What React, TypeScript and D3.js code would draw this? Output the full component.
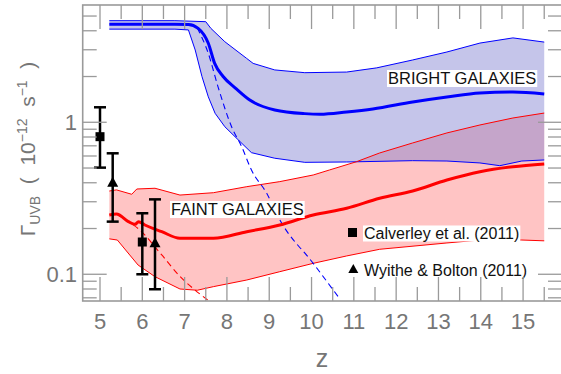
import React, { useLayoutEffect, useRef, useState } from "react";
import * as d3 from "d3";

// ---------- data ----------
const blueMidZ = [5.22, 6.77, 7.09, 7.32, 7.56, 7.71, 7.91, 8.2, 8.54, 9.13, 9.84, 10.2, 10.83, 11.45, 12.39, 13.2, 13.98, 14.76, 15.5];
const blueMidV = [4.41, 4.41, 4.4, 4.15, 3.31, 2.44, 2.0, 1.68, 1.4, 1.205, 1.14, 1.13, 1.169, 1.223, 1.36, 1.467, 1.56, 1.58, 1.535];

const blueHiZ = [5.22, 6.77, 7.5, 7.62, 7.95, 8.46, 8.62, 9.13, 9.84, 10.83, 11.54, 12.39, 13.2, 13.98, 14.76, 15.5];
const blueHiV = [4.66, 4.66, 4.59, 4.15, 3.39, 2.64, 2.44, 2.21, 2.12, 2.14, 2.28, 2.57, 2.9, 3.32, 3.59, 3.37];

const blueLoZ = [5.22, 6.77, 7.09, 7.25, 7.41, 7.56, 7.72, 7.95, 8.27, 8.58, 9.13, 9.84, 10.83, 12.39, 13.2, 13.98, 14.45, 14.97, 15.5];
const blueLoV = [4.1, 4.1, 4.05, 2.99, 2.0, 1.47, 1.146, 0.935, 0.765, 0.631, 0.58, 0.545, 0.548, 0.559, 0.556, 0.54, 0.518, 0.556, 0.565];

const blueDashZ = [7.3, 7.56, 7.79, 8.11, 8.35, 8.58, 8.94, 9.25, 10.04, 10.63];
const blueDashV = [4.17, 2.84, 1.71, 0.935, 0.69, 0.485, 0.341, 0.228, 0.118, 0.0712];

const redMidZ = [5.22, 5.39, 5.67, 5.83, 5.91, 6.06, 6.46, 6.89, 7.68, 8.47, 9.25, 10.04, 10.83, 11.61, 12.39, 13.2, 13.98, 14.76, 15.5];
const redMidV = [0.2455, 0.249, 0.222, 0.213, 0.222, 0.211, 0.1906, 0.1726, 0.1726, 0.1906, 0.211, 0.2455, 0.2717, 0.316, 0.353, 0.417, 0.473, 0.51, 0.532];

const redHiZ = [5.22, 5.39, 5.75, 5.87, 6.3, 6.89, 7.68, 8.47, 9.25, 10.04, 10.43, 11.06, 11.61, 12.39, 13.2, 13.98, 14.76, 15.5];
const redHiV = [0.353, 0.359, 0.336, 0.364, 0.368, 0.332, 0.344, 0.377, 0.407, 0.45, 0.486, 0.55, 0.628, 0.731, 0.851, 0.96, 1.067, 1.15];

const redLoZ = [5.22, 5.41, 5.9, 6.3, 6.89, 7.3, 7.68, 8.47, 9.25, 10.04, 10.83, 11.61, 13.2, 13.98, 14.97, 15.5];
const redLoV = [0.171, 0.168, 0.115, 0.0964, 0.08, 0.0785, 0.0829, 0.0917, 0.104, 0.118, 0.132, 0.146, 0.1607, 0.168, 0.168, 0.166];

const redDashZ = [5.39, 5.67, 5.9, 6.46, 6.89, 7.24, 7.6];
const redDashV = [0.249, 0.222, 0.2, 0.134, 0.0968, 0.079, 0.066];

const calZ = [5.0, 6.0];
const calV = [0.804, 0.163];
const calLo = [0.503, 0.1];
const calHi = [1.255, 0.252];

const wbZ = [5.3, 6.3];
const wbV = [0.4, 0.16];
const wbLo = [0.222, 0.0797];
const wbHi = [0.625, 0.311];

const xMajor = [5, 6, 7, 8, 9, 10, 11, 12, 13, 14, 15];
const xMinor = [5.5, 6.5, 7.5, 8.5, 9.5, 10.5, 11.5, 12.5, 13.5, 14.5, 15.5];
const yMajor = [0.1, 1];
const yMajorLabels = ["0.1", "1"];
const yMinor = [0.07, 0.08, 0.09, 0.2, 0.3, 0.4, 0.5, 0.6, 0.7, 0.8, 0.9, 2, 3, 4, 5];

const legendLabels = ["Calverley et al. (2011)", "Wyithe & Bolton (2011)"];
const bandLabels = ["BRIGHT GALAXIES", "FAINT GALAXIES"];

// ---------- layout ----------
const W = 561;
const H = 374;
const L = 82.7, R = 562, T = 5, B = 301;
const FONT = "'Liberation Sans', Arial, Helvetica, sans-serif";
const GRAY = "#767676";
const FRAME = "#9a9a9a";

const x = d3.scaleLinear().domain([4.591, 15.92]).range([L, R]);
const y = d3.scaleLog().domain([0.0667, 5.91]).range([B, T]);

const zip = (zs: number[], vs: number[]) => zs.map((z, i) => [z, vs[i]] as [number, number]);
const line = d3.line<[number, number]>().x((d) => x(d[0])).y((d) => y(d[1]));
const smooth = d3.line<[number, number]>().x((d) => x(d[0])).y((d) => y(d[1])).curve(d3.curveMonotoneX);

function bandPath(hiZ: number[], hiV: number[], loZ: number[], loV: number[]) {
  const pts = zip(hiZ, hiV).concat(zip(loZ, loV).reverse());
  return line(pts) + "Z";
}

function BgText(props: { x: number; y: number; text: string; size: number; pad?: number }) {
  const ref = useRef<SVGTextElement>(null);
  const [bb, setBb] = useState<{ x: number; y: number; width: number; height: number } | null>(null);
  useLayoutEffect(() => {
    if (ref.current) {
      const b = ref.current.getBBox();
      setBb({ x: b.x, y: b.y, width: b.width, height: b.height });
    }
  }, [props.text]);
  const pad = props.pad ?? 1;
  return (
    <g>
      {bb && (
        <rect x={bb.x - pad} y={bb.y + 1} width={bb.width + 2 * pad} height={bb.height - 1} fill="white" />
      )}
      <text ref={ref} x={props.x} y={props.y} fontSize={props.size} fill="#111" fontFamily={FONT}>
        {props.text}
      </text>
    </g>
  );
}

function tri(cx: number, cy: number, s: number) {
  const h = s * 0.9;
  return `M${cx},${cy - h * 0.6}L${cx + s / 2},${cy + h * 0.4}L${cx - s / 2},${cy + h * 0.4}Z`;
}

export default function App() {
  const tickLong = 24;
  const tickShort = 14;
  return (
    <svg width={W} height={H} style={{ position: "absolute", left: 0, top: 0, background: "white" }} fontFamily={FONT}>
      <defs>
        <clipPath id="plotclip">
          <rect x={L} y={T} width={R - L} height={B - T} />
        </clipPath>
      </defs>
      <rect x={0} y={0} width={W} height={H} fill="white" />

      <g clipPath="url(#plotclip)">
        {/* bands */}
        <path d={bandPath(redHiZ, redHiV, redLoZ, redLoV)} fill="#ffc4c4" stroke="none" />
        <path d={bandPath(blueHiZ, blueHiV, blueLoZ, blueLoV)} fill="rgb(129,129,209)" fillOpacity={0.46} stroke="none" />

        {/* band edges */}
        <path d={line(zip(blueHiZ, blueHiV))!} fill="none" stroke="#0000ff" strokeWidth={1} />
        <path d={line(zip(blueLoZ, blueLoV))!} fill="none" stroke="#0000ff" strokeWidth={1} />
        <path d={line(zip(redHiZ, redHiV))!} fill="none" stroke="#ff0000" strokeWidth={1} />
        <path d={line(zip(redLoZ, redLoV))!} fill="none" stroke="#ff0000" strokeWidth={1} />

        {/* dashed */}
        <path d={smooth(zip(blueDashZ, blueDashV))!} fill="none" stroke="#0000ff" strokeWidth={1.1} strokeDasharray="6,4" />
        <path d={smooth(zip(redDashZ, redDashV))!} fill="none" stroke="#ff0000" strokeWidth={1.1} strokeDasharray="6,4" />

        {/* central */}
        <path d={smooth(zip(blueMidZ, blueMidV))!} fill="none" stroke="#0000ff" strokeWidth={3} strokeLinejoin="round" />
        <path d={smooth(zip(redMidZ, redMidV))!} fill="none" stroke="#ff0000" strokeWidth={3} strokeLinejoin="round" />
      </g>

      {/* band labels */}
      <BgText x={388} y={84} text={bandLabels[0]} size={16.5} />
      <BgText x={171} y={215} text={bandLabels[1]} size={16.5} />

      {/* error bars and points */}
      {calZ.map((z, i) => (
        <g key={"c" + i} stroke="#000" strokeWidth={2.5}>
          <line x1={x(z)} x2={x(z)} y1={y(calLo[i])} y2={y(calHi[i])} />
          <line x1={x(z) - 6} x2={x(z) + 6} y1={y(calLo[i])} y2={y(calLo[i])} />
          <line x1={x(z) - 6} x2={x(z) + 6} y1={y(calHi[i])} y2={y(calHi[i])} />
          <rect x={x(z) - 4.5} y={y(calV[i]) - 4.5} width={9} height={9} fill="#000" stroke="none" />
        </g>
      ))}
      {wbZ.map((z, i) => (
        <g key={"w" + i} stroke="#000" strokeWidth={2.5}>
          <line x1={x(z)} x2={x(z)} y1={y(wbLo[i])} y2={y(wbHi[i])} />
          <line x1={x(z) - 6} x2={x(z) + 6} y1={y(wbLo[i])} y2={y(wbLo[i])} />
          <line x1={x(z) - 6} x2={x(z) + 6} y1={y(wbHi[i])} y2={y(wbHi[i])} />
          <path d={tri(x(z), y(wbV[i]), 11)} fill="#000" stroke="none" />
        </g>
      ))}

      {/* legend */}
      <rect x={348} y={228} width={9} height={9} fill="#000" />
      <BgText x={364} y={238.5} text={legendLabels[0]} size={16} />
      <path d={tri(353.3, 269.5, 10)} fill="#000" />
      <text x={364} y={275.5} fontSize={16} fill="#111">{legendLabels[1]}</text>

      {/* frame */}
      <rect x={L} y={T} width={R - L} height={B - T} fill="none" stroke={FRAME} strokeWidth={1.6} />

      {/* ticks */}
      <g stroke={FRAME} strokeWidth={1.3}>
        {xMajor.map((v) => (
          <g key={"xM" + v}>
            <line x1={x(v)} x2={x(v)} y1={B} y2={B - tickLong} />
            <line x1={x(v)} x2={x(v)} y1={T} y2={T + tickLong} />
          </g>
        ))}
        {xMinor.map((v) => (
          <g key={"xm" + v}>
            <line x1={x(v)} x2={x(v)} y1={B} y2={B - tickShort} />
            <line x1={x(v)} x2={x(v)} y1={T} y2={T + tickShort} />
          </g>
        ))}
        {yMajor.map((v) => (
          <g key={"yM" + v}>
            <line x1={L} x2={L + tickLong} y1={y(v)} y2={y(v)} />
            <line x1={R} x2={R - tickLong} y1={y(v)} y2={y(v)} />
          </g>
        ))}
        {yMinor.map((v) => (
          <g key={"ym" + v}>
            <line x1={L} x2={L + tickShort} y1={y(v)} y2={y(v)} />
            <line x1={R} x2={R - tickShort} y1={y(v)} y2={y(v)} />
          </g>
        ))}
      </g>

      {/* tick labels */}
      {xMajor.map((v) => (
        <text key={"xl" + v} x={x(v)} y={328.5} textAnchor="middle" fontSize={22} fill={GRAY}>
          {v}
        </text>
      ))}
      {yMajor.map((v, i) => (
        <text key={"yl" + v} x={77} y={y(v) + 8} textAnchor="end" fontSize={22} fill={GRAY}>
          {yMajorLabels[i]}
        </text>
      ))}

      {/* axis labels */}
      <text x={322} y={367} textAnchor="middle" fontSize={25} fill={GRAY}>z</text>
      <text transform="translate(35,149) rotate(-90)" textAnchor="middle" fontSize={21} fill={GRAY} style={{ whiteSpace: "pre" }}>
        Γ<tspan fontSize={14} dy={5}>UVB</tspan>
        <tspan fontSize={21} dy={-5}>{"  (  10"}</tspan>
        <tspan fontSize={14} dy={-8}>−12</tspan>
        <tspan fontSize={21} dy={8}>{"  s"}</tspan>
        <tspan fontSize={14} dy={-8}>−1</tspan>
        <tspan fontSize={21} dy={8}>{"  )"}</tspan>
      </text>
    </svg>
  );
}
